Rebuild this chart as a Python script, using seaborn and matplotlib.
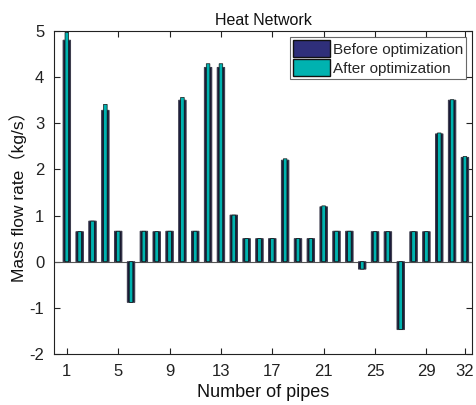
import matplotlib
matplotlib.use("Agg")
import matplotlib.pyplot as plt
import seaborn as sns
import numpy as np
from matplotlib.patches import Patch

pipes = list(range(1, 33))
before = [4.80, 0.65, 0.88, 3.28, 0.66, -0.88, 0.66, 0.65, 0.66, 3.50,
          0.66, 4.21, 4.21, 1.01, 0.50, 0.50, 0.50, 2.20, 0.50, 0.50,
          1.19, 0.66, 0.66, -0.16, 0.65, 0.65, -1.47, 0.65, 0.65, 2.77,
          3.50, 2.26]
after = [4.97, 0.65, 0.88, 3.41, 0.66, -0.88, 0.66, 0.65, 0.66, 3.56,
         0.66, 4.29, 4.29, 1.01, 0.50, 0.50, 0.50, 2.23, 0.50, 0.50,
         1.21, 0.66, 0.66, -0.16, 0.65, 0.65, -1.47, 0.65, 0.65, 2.79,
         3.51, 2.28]
xticks = [1, 5, 9, 13, 17, 21, 25, 29, 32]
yticks = [-2, -1, 0, 1, 2, 3, 4, 5]

sns.set_style("white")
plt.rcParams['font.family'] = ['Liberation Sans', 'Noto Sans CJK SC', 'DejaVu Sans']

fig = plt.figure(figsize=(4.76, 4.05), dpi=100)
ax = fig.add_axes([0.1134, 0.1259, 0.8782, 0.7976])

c_before = '#2f2f7a'
c_after = '#00b2b0'

order = [str(p) for p in pipes]
sns.barplot(x=order, y=before, order=order, width=0.58, color='#1c1c3c',
            edgecolor='#3a3a4a', linewidth=0.7, saturation=1, ax=ax, zorder=2)
n_before = len(ax.patches)
sns.barplot(x=order, y=after, order=order, width=0.28, color=c_after,
            edgecolor='#111111', linewidth=0.5, saturation=1, ax=ax, zorder=3)
for p in ax.patches:
    p.set_snap(False)

ax.axhline(0, color='#555555', lw=0.8, zorder=1)
ax.set_xlim(-1, 31.55)
ax.set_ylim(-2, 5)
ax.set_xticks([t - 1 for t in xticks])
ax.set_xticklabels([str(t) for t in xticks])
ax.set_yticks(yticks)
ax.set_yticklabels([str(t) for t in yticks])
ax.tick_params(direction='in', length=4, width=0.8, labelsize=12, colors='#222222',
               top=True, right=True, bottom=True, left=True, pad=7)
for s in ax.spines.values():
    s.set_color('#222222')
    s.set_linewidth(0.8)
    s.set_visible(True)

ax.set_title('Heat Network', fontsize=11.5, pad=4, color='#111111')
ax.set_xlabel('Number of pipes', fontsize=13, labelpad=4, color='#111111')
ax.set_ylabel('Mass flow rate（kg/s）', fontsize=12.5, labelpad=2, color='#111111')

handles = [Patch(facecolor=c_before, edgecolor='#111111', label='Before optimization'),
           Patch(facecolor=c_after, edgecolor='#111111', label='After optimization')]
leg = ax.legend(handles=handles, loc='upper right', fontsize=11, frameon=True,
                fancybox=False, edgecolor='#444444', handlelength=2.4, handleheight=1.3,
                handletextpad=0.2, borderpad=0.2, labelspacing=0.15,
                borderaxespad=0.4)
leg.get_frame().set_linewidth(0.8)

fig.savefig('out.png', dpi=100)
